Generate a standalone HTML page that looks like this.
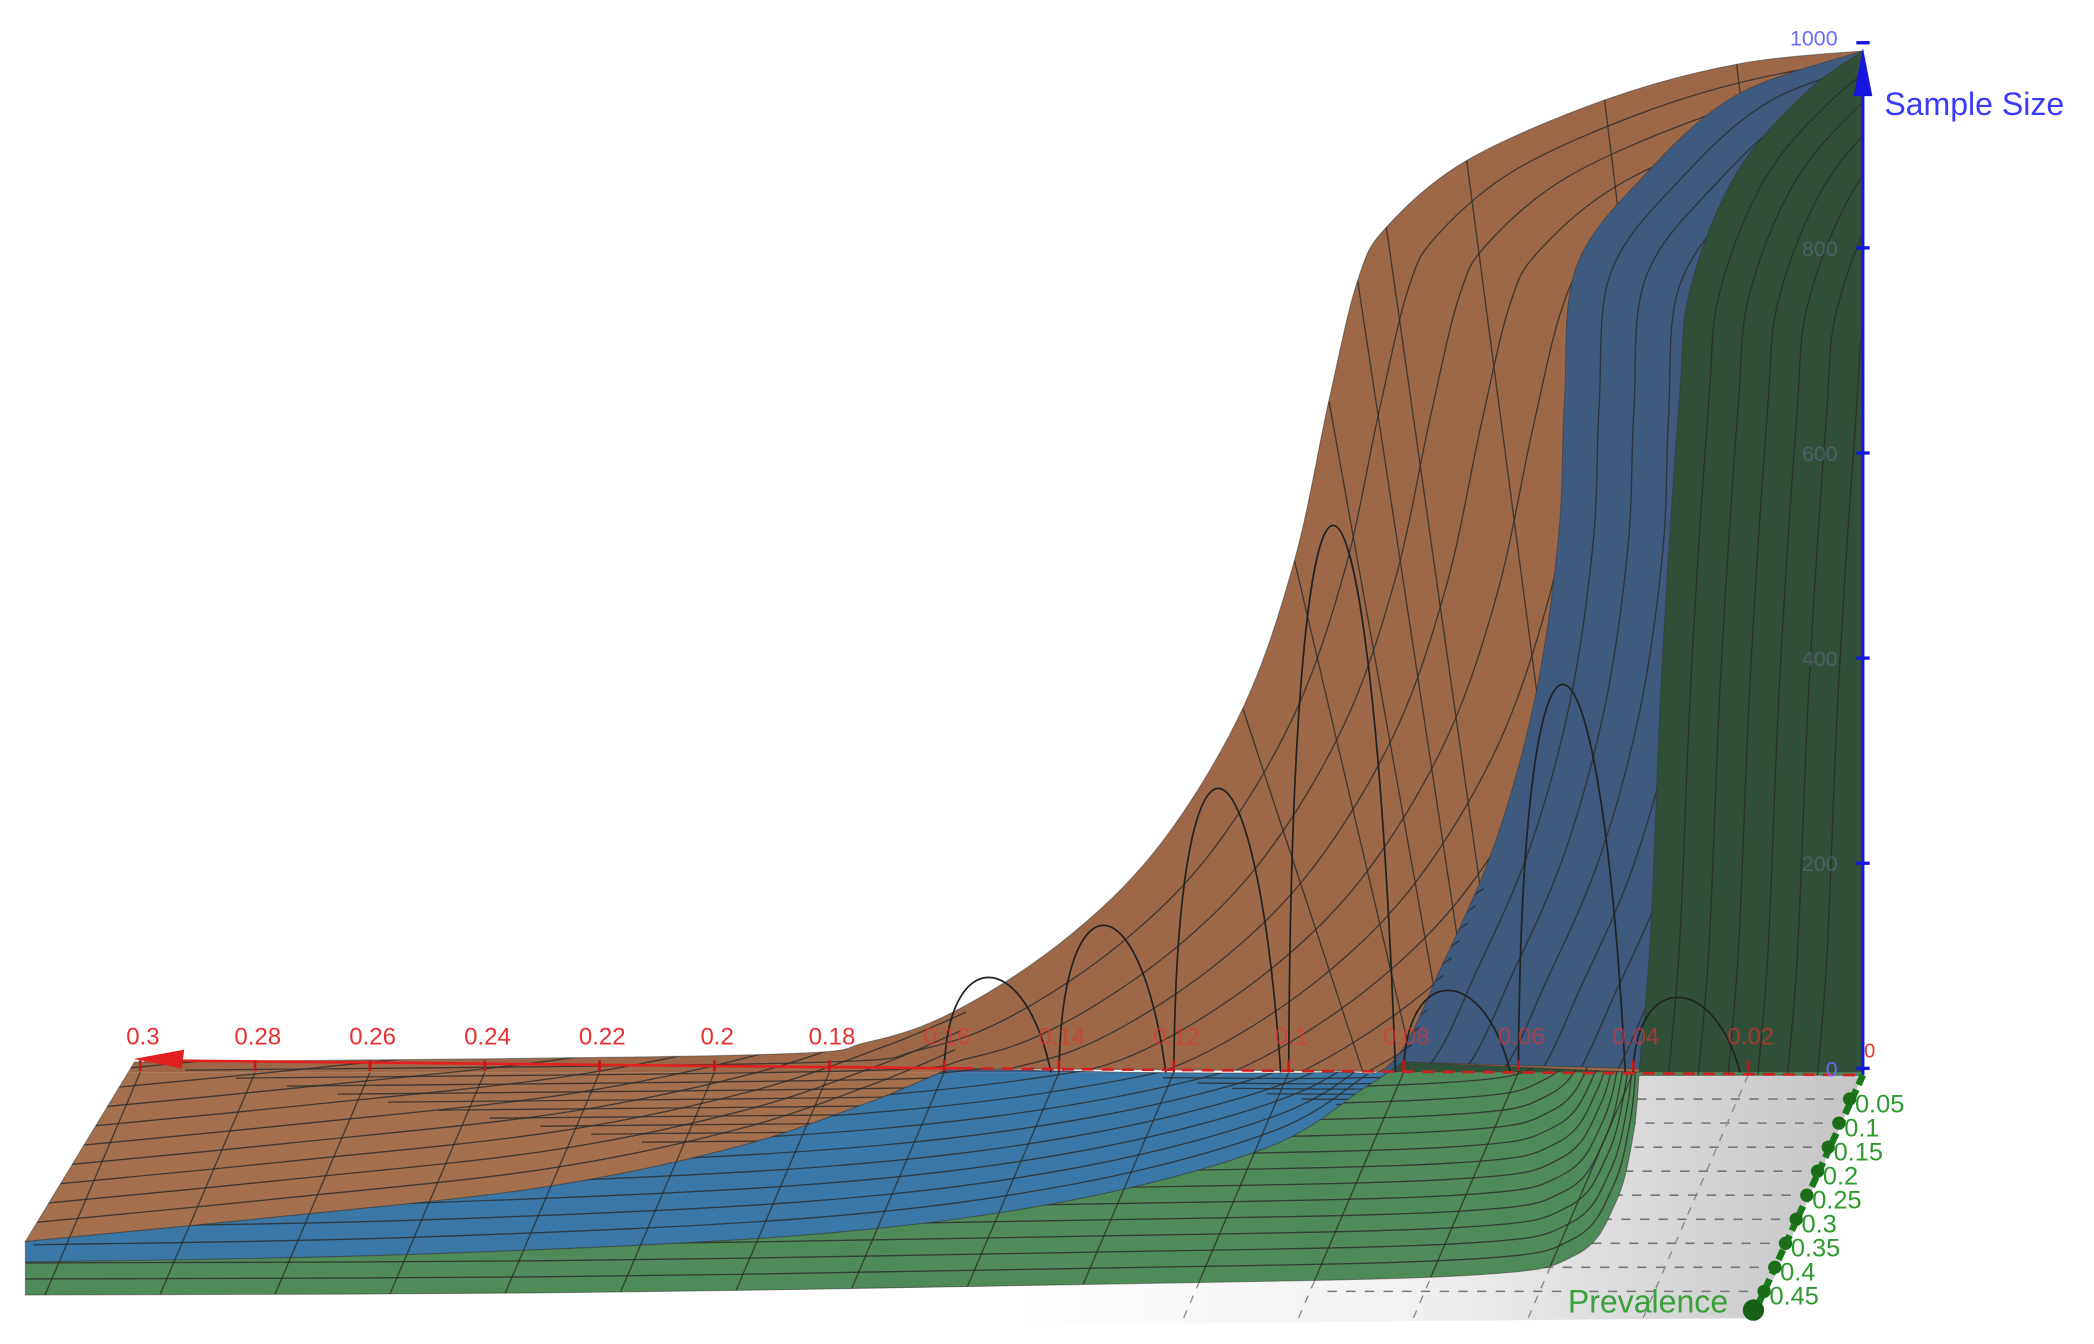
<!DOCTYPE html>
<html><head><meta charset="utf-8"><style>
html,body{margin:0;padding:0;background:#fff;width:2094px;height:1344px;overflow:hidden}
svg{display:block}
text{font-family:"Liberation Sans",sans-serif}
</style></head><body>
<svg id="chart" width="2094" height="1344" viewBox="0 0 1568 1006.4" preserveAspectRatio="none" xmlns="http://www.w3.org/2000/svg">
<defs>
<linearGradient id="floorGrad" x1="0" y1="0" x2="1" y2="0">
<stop offset="0" stop-color="#ffffff"/><stop offset="0.45" stop-color="#f2f2f2"/><stop offset="1" stop-color="#c4c4c4"/>
</linearGradient>
</defs>
<g id="floorLayer"></g>
<g id="surfLayer"></g>
<g id="axisLayer"></g>
</svg>
<script>
// ---- data (epsilon = margin of error, n = sample size) ----
const xTickEps = [0.3,0.28,0.26,0.24,0.22,0.2,0.18,0.16,0.14,0.12,0.1,0.08,0.06,0.04,0.02];
const xTickLabels = ["0.3","0.28","0.26","0.24","0.22","0.2","0.18","0.16","0.14","0.12","0.1","0.08","0.06","0.04","0.02"];
const zTickVals = [0,200,400,600,800,1000];
const zTickLabels = ["0","200","400","600","800","1000"];
const prevTicks = [0.05,0.1,0.15,0.2,0.25,0.3,0.35,0.4,0.45];
const prevLabels = ["0.05","0.1","0.15","0.2","0.25","0.3","0.35","0.4","0.45"];

const orangeTopEps = [0.301,0.194,0.173,0.157,0.138,0.122,0.108,0.099,0.093,0.088,0.083,0.069,0.045,0.022,0];
const orangeTopN   = [10,17,30,63,134,225,355,499,655,772,824,889,948,983,996];
const orangeFrontEps = [0.320,0.278,0.231,0.197,0.173,0.159];
const orangeFrontN   = [-165,-142,-113,-74,-29,4];

const blueTopEps = [0.128,0.093,0.082,0.073,0.064,0.057,0.053,0.052,0.050,0.038,0.022,0];
const blueTopN   = [0,0,10,108,225,368,524,654,784,875,953,996];
const blueFrontEps = [0.320,0.255,0.185,0.139,0.104,0.087,0.080];
const blueFrontN   = [-185,-178,-159,-126,-74,-16,10];

const greenTopEps = [0.039,0.037,0.035,0.032,0.030,0.022,0.010,0];
const greenTopN   = [0,134,395,655,766,877,955,996];
const greenFrontEps = [0.320,0.230,0.138,0.069,0.050,0.043,0.040,0.039];
const greenFrontN   = [-217,-215,-207,-198,-178,-126,-61,-3];

const archEps   = [0.16,0.14,0.12,0.10,0.08,0.06,0.04];
const archPeakN = [95,147,284,547,82,388,75];

// ---- axis functions ----
function X(e){ return 1395 - 4300*e; }
function Y(n){ return 803 - 0.768*n; }
function P(p){ return [1395 - 160*p, 805 + 360*p]; }
const NS="http://www.w3.org/2000/svg";
function mk(tag, attrs, parent){ const el=document.createElementNS(NS,tag); for(const k in attrs) el.setAttribute(k,attrs[k]); parent.appendChild(el); return el; }
function pts(eps, ns){ return eps.map((e,i)=>[X(e),Y(ns[i])]); }
function f(v){ return v.toFixed(1); }
// Catmull-Rom smoothing: returns C segments from p[0] through all points
function cr(p){
  let s='';
  for(let i=0;i<p.length-1;i++){
    const p0=p[i-1]||p[i], p1=p[i], p2=p[i+1], p3=p[i+2]||p2;
    const c1=[p1[0]+(p2[0]-p0[0])/6, p1[1]+(p2[1]-p0[1])/6];
    const c2=[p2[0]-(p3[0]-p1[0])/6, p2[1]-(p3[1]-p1[1])/6];
    s+=` C${f(c1[0])} ${f(c1[1])} ${f(c2[0])} ${f(c2[1])} ${f(p2[0])} ${f(p2[1])}`;
  }
  return s;
}
function smoothD(p){ return `M${f(p[0][0])} ${f(p[0][1])}`+cr(p); }
function shift(p,dx,dy){ return p.map(q=>[q[0]+dx,q[1]+dy]); }
function rev(p){ return p.slice().reverse(); }

const svg=document.getElementById('chart');
const defs=svg.querySelector('defs');
const floorL=document.getElementById('floorLayer');
const surfL=document.getElementById('surfLayer');
const axisL=document.getElementById('axisLayer');

// floor
const fl = mk('polygon',{points:"1395,805 1315,987 760,992 760,805",fill:"url(#floorGrad)"},floorL);


prevTicks.forEach((p,i)=>{
  const a=P(p);
  const ln=mk('line',{x1:a[0],y1:a[1],x2:a[0]-330,y2:a[1],stroke:"#777","stroke-width":1.2,"stroke-dasharray":"7 7"},floorL);
  
  
});
[0.02,0.04,0.06,0.08,0.1].forEach(e=>{
  const ln=mk('line',{x1:X(e),y1:805,x2:X(e)-80,y2:990,stroke:"#888","stroke-width":1,"stroke-dasharray":"6 6"},floorL);
  
  
});

// surfaces
const oTop=pts(orangeTopEps,orangeTopN), oFront=pts(orangeFrontEps,orangeFrontN);
const bTop=pts(blueTopEps,blueTopN), bFront=pts(blueFrontEps,blueFrontN);
const gTop=pts(greenTopEps,greenTopN), gFront=pts(greenFrontEps,greenFrontN);
function L(q){ return ` L${f(q[0])} ${f(q[1])}`; }
const orangeD = smoothD(oTop)+L([1395,805])+L(oFront[oFront.length-1])+cr(rev(oFront))+' Z';
const blueD = smoothD(oFront)+L(bTop[0])+cr(bTop)+L([1395,805])+L(bFront[bFront.length-1])+cr(rev(bFront))+' Z';
const greenD = smoothD(bFront)+L(gTop[0])+cr(gTop)+L([1395,805])+L(gFront[gFront.length-1])+cr(rev(gFront))+' Z';

function surface(name, d, fillUp, fillDown, meshFn){
  const cp=mk('clipPath',{id:'clip-'+name},defs);
  mk('path',{d:d},cp);
  const g=mk('g',{'clip-path':'url(#clip-'+name+')'},surfL);
  
  
  const up=mk('rect',{x:0,y:0,width:1568,height:803,fill:fillUp},g);
  
  
  const dn=mk('rect',{x:0,y:803,width:1568,height:210,fill:fillDown},g);
  
  
  meshFn(g);
  for(let e=0.32;e>=0;e-=0.02){
    const ln=mk('line',{x1:X(e),y1:803,x2:X(e)-80,y2:990,stroke:"#2a2a2a","stroke-width":1,"stroke-opacity":0.75},g);
    
    
  }
  const ol=mk('path',{d:d,fill:'none',stroke:'#333','stroke-width':0.8,'stroke-opacity':0.5},surfL);
  
  
}
function meshLine(g,p){
  const m=mk('path',{d:smoothD(p),fill:'none',stroke:'#2a2a2a','stroke-width':1,'stroke-opacity':0.8},g);
  
  
}

surface('orange',orangeD,'#9d6848','#a5704e',g=>{
  for(let k=1;k<=10;k++) meshLine(g,shift(oTop,k*38,k*6));
  for(let k=1;k<=9;k++) meshLine(g,shift(oFront,k*4,-k*14));
  for(let i=6;i<oTop.length-1;i++){ const a=oTop[i]; meshLine(g,[a,[a[0]+90,803]]); }
});
surface('blue',blueD,'#3e5b7f','#3a77a6',g=>{
  for(let k=1;k<=10;k++) meshLine(g,shift(bFront,k*6,-k*13));
  for(let k=1;k<=8;k++) meshLine(g,shift(bTop,k*26,k*4));
});
surface('green',greenD,'#31503a','#4f8b58',g=>{
  for(let k=1;k<=12;k++) meshLine(g,shift(gFront,-k*2,-k*12));
  for(let k=1;k<=6;k++) meshLine(g,shift(gTop,k*22,k*3));
});

// arches
archEps.forEach((e,i)=>{
  const x0=X(e), yp=Y(archPeakN[i]), h=803-yp;
  const d=`M${f(x0)} 803 C ${f(x0+2)} ${f(yp-h*0.3)}, ${f(x0+60)} ${f(yp-h*0.3)}, ${f(x0+80)} 803`;
  const a=mk('path',{d:d,fill:'none',stroke:'#222','stroke-width':1.3},surfL);
  
  
});

// red epsilon axis
const rx=mk('line',{x1:108,y1:794,x2:720,y2:800,stroke:'#e02020','stroke-width':2},axisL);


const rx2=mk('line',{x1:720,y1:800,x2:1395,y2:805,stroke:'#d02020','stroke-width':2,'stroke-dasharray':'9 6'},axisL);


const ra=mk('polygon',{points:'100,793 138,786 136,800',fill:'#e02020'},axisL);


xTickEps.forEach((e,i)=>{
  const x=X(e);
  const t=mk('line',{x1:x,y1:794,x2:x,y2:802,stroke:'#c01818','stroke-width':2},axisL);
  
  
  const tx=mk('text',{x:x+2,y:782,fill:'#e83030','font-size':18,'text-anchor':'middle','fill-opacity':e<0.17?0.6:1},axisL);
  tx.textContent=xTickLabels[i];
  
  
});
const r0=mk('text',{x:1400,y:792,fill:'#e83030','font-size':15,'text-anchor':'middle'},axisL);
r0.textContent='0';



// blue sample size axis
const za=mk('line',{x1:1395,y1:805,x2:1395,y2:55,stroke:'#1515e0','stroke-width':2.2},axisL);


const zar=mk('polygon',{points:'1395,36 1388,72 1402,72',fill:'#1515e0'},axisL);


zTickVals.forEach((v,i)=>{
  const y=Y(v)-3;
  const t=mk('line',{x1:1390,y1:y,x2:1400,y2:y,stroke:'#1515e0','stroke-width':2.5},axisL);
  
  
  const hidden = v>0 && v<1000;
  const tx=mk('text',{x:1376,y:y+(v===1000?2:6),fill:hidden?'#8080c0':'#6a6aff','font-size':16,'text-anchor':'end','fill-opacity':hidden?0.35:1},axisL);
  tx.textContent=zTickLabels[i];
  
  
});
const zt=mk('text',{x:1411,y:86,fill:'#3a3aff','font-size':24},axisL);
zt.textContent='Sample Size';



// green prevalence axis
const pEnd=P(0.5);
const pa=mk('line',{x1:1395,y1:805,x2:pEnd[0],y2:pEnd[1]-5,stroke:'#1a7a1a','stroke-width':5,'stroke-dasharray':'8 4'},axisL);


prevTicks.forEach((p,i)=>{
  const a=P(p);
  const d=mk('circle',{cx:a[0]-2,cy:a[1],r:5,fill:'#1a6e1a'},axisL);
  
  
  const tx=mk('text',{x:a[0]+2,y:a[1]+10,fill:'#2e9a2e','font-size':19},axisL);
  tx.textContent=prevLabels[i];
  
  
});
const pe=mk('circle',{cx:pEnd[0]-2,cy:pEnd[1]-4,r:8,fill:'#176117'},axisL);


const pt=mk('text',{x:1174,y:983,fill:'#3aa03a','font-size':24},axisL);
pt.textContent='Prevalence';


</script>
</body></html>
